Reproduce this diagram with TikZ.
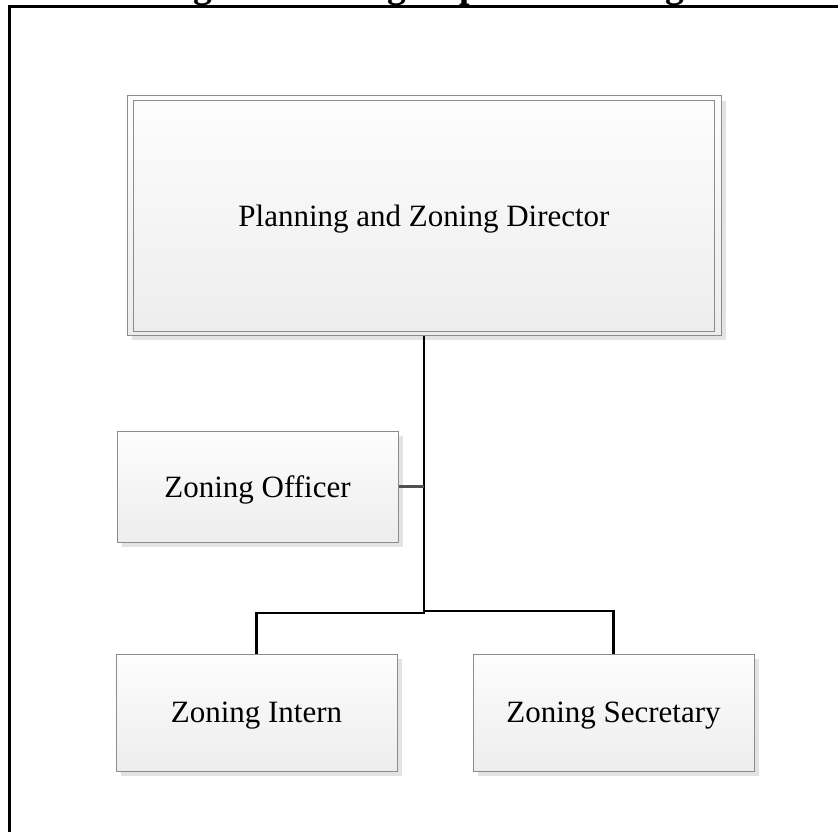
\documentclass[tikz,border=0pt]{standalone}
\usepackage{fontspec}
\setmainfont{Liberation Serif}
\usetikzlibrary{shadows}
\definecolor{boxtop}{HTML}{FDFDFD}
\definecolor{boxbot}{HTML}{EDEDED}
\definecolor{boxline}{HTML}{8C8C8C}
\definecolor{shadowgray}{HTML}{E3E3E3}
\definecolor{sideline}{HTML}{505050}
\begin{document}
\begin{tikzpicture}[x=1pt,y=-1pt,
  box/.style={draw=boxline, line width=1pt, top color=boxtop, bottom color=boxbot,
    rectangle, inner sep=0pt, text depth=0pt,
    drop shadow={shadow xshift=5pt, shadow yshift=-5pt, fill=shadowgray, opacity=1},
    font=\fontsize{31}{37}\selectfont},
  conn/.style={line width=2.5pt, black},
  sideconn/.style={line width=3pt, sideline},
  frame/.style={line width=3pt, black}
]
\useasboundingbox (0,0) rectangle (838,832);

% page heading, mostly above the visible sheet
\node[anchor=base west, inner sep=0pt, font=\bfseries\fontsize{37.6}{44}\selectfont] (title)
  at (68,-2) {Planning and Zoning Department Organizational Chart};

% sheet frame
\draw[frame] (9.5,845) -- (9.5,7) -- (850,7);

% positions
\node[box, minimum width=594pt, minimum height=239pt] (dir) at (424,215.5) {Planning and Zoning Director};
\draw[boxline, line width=1pt] ([shift={(6.5,5.5)}]dir.north west) rectangle ([shift={(-7.5,-4.5)}]dir.south east);
\node[box, minimum width=281pt, minimum height=111pt] (off) at (257.5,486.5) {Zoning Officer};
\node[box, minimum width=281pt, minimum height=117pt] (intern) at (256.5,712.5) {Zoning Intern};
\node[box, minimum width=281pt, minimum height=117pt] (sec) at (613.5,712.5) {Zoning Secretary};

% reporting lines
\coordinate (jl) at (424,613);
\coordinate (jr) at (424,611);
\draw[conn] (dir.south) -- (jl) -| (intern.north);
\draw[conn] (dir.south) -- (jr) -| (sec.north);
\draw[sideconn] (off.east) -- (off.east -| dir.south);
\end{tikzpicture}
\end{document}
